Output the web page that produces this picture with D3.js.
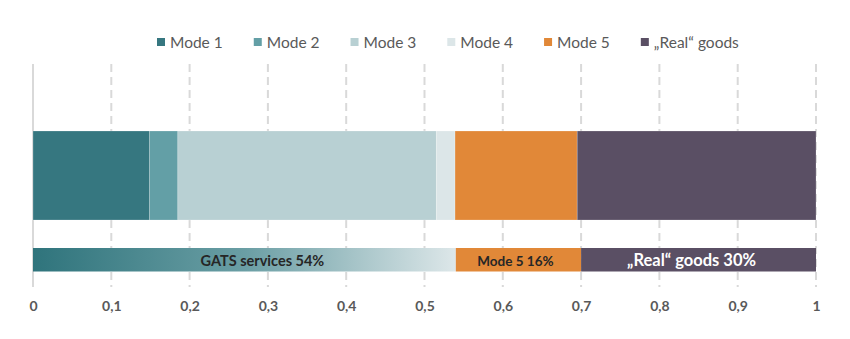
<!DOCTYPE html>
<html lang="en">
<head>
  <meta charset="UTF-8" />
  <title>Modes of supply vs. real goods</title>
  <script src="https://d3js.org/d3.v7.min.js"></script>
  <style>
    body { margin: 0; background: #fff; font-family: Lato, "Open Sans", sans-serif; }
    .legend text { font-size: 15.5px; fill: #595959; }
    .axis text { font-size: 14px; font-weight: bold; fill: #595959; font-family: Lato, sans-serif; }
  </style>
</head>
<body>
  <svg id="chart" width="850" height="339"></svg>

  <script>
  // shares of the detailed split (top bar)
  const modeKeys   = ["Mode 1", "Mode 2", "Mode 3", "Mode 4", "Mode 5", "\u201EReal\u201C goods"];
  const modeValues = [0.149, 0.036, 0.33, 0.024, 0.156, 0.305];
  const modeColors = ["#367780", "#639fa6", "#b8d0d3", "#dce6e8", "#e18838", "#5a4f64"];

  // aggregated split (bottom bar)
  const groupLabels = ["GATS services 54%", "Mode 5 16%", "\u201EReal\u201C goods 30%"];
  const groupValues = [0.54, 0.16, 0.30];

  const tickValues = [0, 0.1, 0.2, 0.3, 0.4, 0.5, 0.6, 0.7, 0.8, 0.9, 1];

  const svg = d3.select("#chart");
  const x = d3.scaleLinear().domain([0, 1]).range([33, 816]);

  // gradient for the GATS part of the bottom bar
  const defs = svg.append("defs");
  const grad = defs.append("linearGradient").attr("id", "gatsGrad")
    .attr("x1", "0%").attr("x2", "100%").attr("y1", "0%").attr("y2", "0%");
  grad.append("stop").attr("offset", "0%").attr("stop-color", "#2f747c");
  grad.append("stop").attr("offset", "50%").attr("stop-color", "#6a9ea4");
  grad.append("stop").attr("offset", "100%").attr("stop-color", "#dde7e9");

  // gridlines
  const grid = svg.append("g");
  grid.selectAll("line").data(tickValues).join("line")
    .attr("x1", d => x(d)).attr("x2", d => x(d))
    .attr("y1", 64).attr("y2", 287)
    .attr("stroke", "#d9d9d9")
    .attr("stroke-width", 2)
    .attr("stroke-dasharray", d => d === 0 ? null : "8,5");

  // top stacked bar
  let acc = 0;
  const topSegs = modeValues.map((v, i) => {
    const s = { key: modeKeys[i], x0: acc, x1: acc + v, color: modeColors[i] };
    acc += v;
    return s;
  });
  svg.append("g").selectAll("rect").data(topSegs).join("rect")
    .attr("x", d => x(d.x0))
    .attr("width", d => x(d.x1) - x(d.x0))
    .attr("y", 131)
    .attr("height", 89)
    .attr("fill", d => d.color)
    .attr("stroke", "rgba(255,255,255,0.35)")
    .attr("stroke-width", 0.6);

  // bottom bar
  acc = 0;
  const groupFills = ["url(#gatsGrad)", "#e18838", "#5a4f64"];
  const groupText = ["#262626", "#262626", "#ffffff"];
  const groupSize = [14.5, 13.5, 16.5];
  const botSegs = groupValues.map((v, i) => {
    const s = { label: groupLabels[i], x0: acc, x1: acc + v, fill: groupFills[i] };
    acc += v;
    return s;
  });
  const bot = svg.append("g");
  bot.selectAll("rect").data(botSegs).join("rect")
    .attr("x", d => x(d.x0))
    .attr("width", d => x(d.x1) - x(d.x0))
    .attr("y", 248)
    .attr("height", 23.5)
    .attr("fill", d => d.fill);
  bot.selectAll("text").data(botSegs).join("text")
    .attr("x", (d, i) => (x(d.x0) + x(d.x1)) / 2 + (i === 0 ? 18 : i === 1 ? -3 : -7))
    .attr("y", 265.5)
    .attr("text-anchor", "middle")
    .attr("font-weight", "bold")
    .attr("font-size", (d, i) => groupSize[i] + "px")
    .attr("fill", (d, i) => groupText[i])
    .text(d => d.label);

  // axis labels
  const axis = svg.append("g").attr("class", "axis")
    .attr("transform", "translate(0,311)")
    .call(d3.axisBottom(x).tickValues(tickValues).tickSize(0)
      .tickFormat(d => d === 0 || d === 1 ? d3.format("d")(d) : d3.format(".1f")(d).replace(".", ",")));
  axis.select(".domain").remove();
  axis.selectAll("text").attr("dy", 0).attr("y", 0);

  // legend
  const legend = svg.append("g").attr("class", "legend");
  let lx = 157;
  modeKeys.forEach((k, i) => {
    const item = legend.append("g").attr("transform", `translate(${lx},0)`);
    item.append("rect").attr("x", 0).attr("y", 38).attr("width", 8).attr("height", 8)
      .attr("fill", modeColors[i]);
    const t = item.append("text").attr("x", 13).attr("y", 48).text(k);
    lx += 13 + t.node().getComputedTextLength() + 31;
  });
  </script>
</body>
</html>
